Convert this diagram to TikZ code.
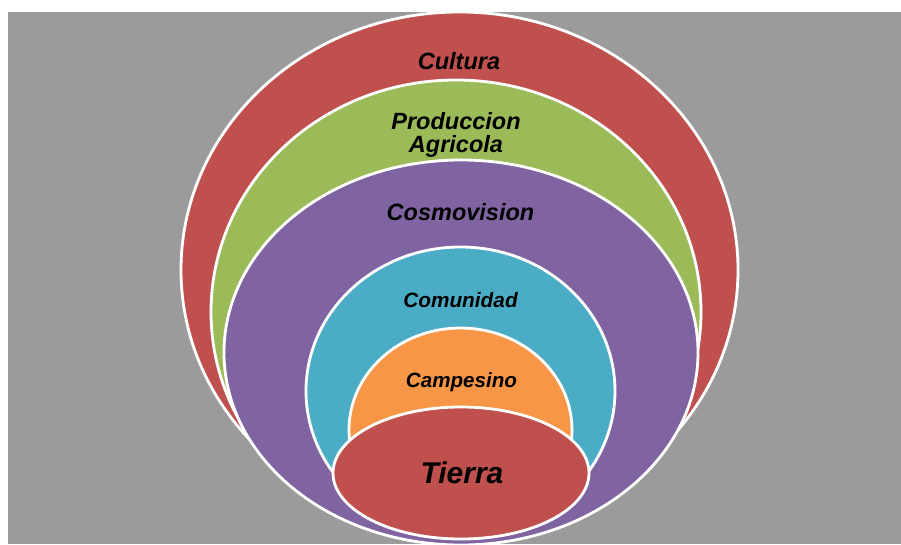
\documentclass[tikz,border=0pt]{standalone}
\usepackage{fontspec}
\setmainfont{Liberation Sans}
\usetikzlibrary{shapes.geometric}
\definecolor{backgray}{RGB}{155,155,155}
\definecolor{brickred}{RGB}{192,80,77}
\definecolor{olivegreen}{RGB}{155,187,89}
\definecolor{lavender}{RGB}{128,100,162}
\definecolor{aqua}{RGB}{75,172,198}
\definecolor{tangerine}{RGB}{247,150,70}

\begin{document}
\begin{tikzpicture}[x=1pt,y=-1pt]
  \tikzset{E/.style={ellipse, draw=white, line width=2.8pt, inner sep=0pt}}
  \tikzset{L/.style={anchor=base, inner sep=0pt, align=center}}
  \tikzset{T/.style={font=\fontsize{#1}{23}\selectfont\bfseries\itshape}}
  \useasboundingbox (0,0) rectangle (901,544);
  \clip (0,0) rectangle (901,544);
  \fill [backgray] (8,12) rectangle (901,544);
  \node [E, fill=brickred,   minimum width=557, minimum height=516] (n1) at (459.5,270) {};
  \node [E, fill=olivegreen, minimum width=490, minimum height=464] (n2) at (456,312)   {};
  \node [E, fill=lavender,   minimum width=474, minimum height=385] (n3) at (461,352.5) {};
  \node [E, fill=aqua,       minimum width=309, minimum height=288] (n4) at (460.5,391) {};
  \node [E, fill=tangerine,  minimum width=223, minimum height=204] (n5) at (460.5,430) {};
  \node [E, fill=brickred,   minimum width=256, minimum height=132] (n6) at (461,473) {};

  \node [L, T=23.5] (l1) at (459,69)  {Cultura};
  \node [L, T=23.5] (l2) at (456,152) {Produccion\\Agricola};
  \node [L, T=23.5] (l3) at (460.5,220) {Cosmovision};
  \node [L, T=20.8] (l4) at (460.5,307) {Comunidad};
  \node [L, T=20.6] (l5) at (461.5,387) {Campesino};
  \node [L, T=30]   (l6) at (462,483) {Tierra};
\end{tikzpicture}
\end{document}
